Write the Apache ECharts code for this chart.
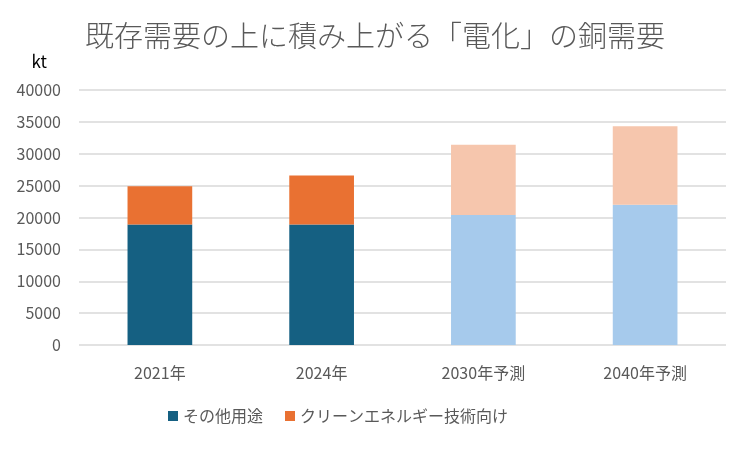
<!DOCTYPE html>
<html><head><meta charset="utf-8">
<script src="https://cdn.jsdelivr.net/npm/echarts@6/dist/echarts.min.js"></script>
<style>html,body{margin:0;padding:0;background:#fff}#c{width:750px;height:449px}</style>
</head><body><div id="c"></div>
<script>
const categories = ['2021年', '2024年', '2030年予測', '2040年予測'];
const otherUse = [18900, 18900, 20400, 22000];
const cleanEnergy = [6000, 7700, 11000, 12300];
const forecastFlags = [false, false, true, true];
const yTicks = [0, 5000, 10000, 15000, 20000, 25000, 30000, 35000, 40000];

const FONT = '"Noto Sans CJK JP", "Noto Sans", sans-serif';
const C_OTHER = '#156082', C_OTHER_L = '#A6CAEC';
const C_CLEAN = '#E97132', C_CLEAN_L = '#F6C6AD';

const chart = echarts.init(document.getElementById('c'));
chart.setOption({
  animation: false,
  textStyle: { fontFamily: FONT },
  title: {
    text: '既存需要の上に積み上がる「電化」の銅需要',
    left: 'center', top: 16,
    textStyle: { fontFamily: FONT, fontSize: 29, fontWeight: 300, color: '#595959' }
  },
  legend: {
    bottom: 20, left: 163,
    itemWidth: 10, itemHeight: 10, itemGap: 22,
    icon: 'rect',
    textStyle: { fontFamily: FONT, fontSize: 16, color: '#595959' }
  },
  grid: { left: 79, right: 24, top: 90, bottom: 104 },
  xAxis: {
    type: 'category', data: categories,
    axisLine: { show: false }, axisTick: { show: false },
    axisLabel: { fontFamily: FONT, fontSize: 16, color: '#595959', margin: 20 }
  },
  yAxis: {
    type: 'value', min: yTicks[0], max: yTicks[yTicks.length - 1], interval: 5000,
    name: 'kt',
    nameLocation: 'end', nameGap: 20,
    nameTextStyle: { fontFamily: FONT, fontSize: 17, color: '#000', align: 'right', padding: [0, 32, 0, 0] },
    axisLine: { show: false }, axisTick: { show: false },
    axisLabel: { fontFamily: FONT, fontSize: 16, color: '#595959', margin: 18, formatter: v => String(v) },
    splitLine: { lineStyle: { color: '#d9d9d9', width: 1.5 } }
  },
  series: [
    {
      name: 'その他用途', type: 'bar', stack: 'total', barWidth: '40%',
      itemStyle: { color: C_OTHER },
      data: otherUse.map((v, i) => ({ value: v, itemStyle: { color: forecastFlags[i] ? C_OTHER_L : C_OTHER } }))
    },
    {
      name: 'クリーンエネルギー技術向け', type: 'bar', stack: 'total', barWidth: '40%',
      itemStyle: { color: C_CLEAN },
      data: cleanEnergy.map((v, i) => ({ value: v, itemStyle: { color: forecastFlags[i] ? C_CLEAN_L : C_CLEAN } }))
    }
  ]
});
</script></body></html>
